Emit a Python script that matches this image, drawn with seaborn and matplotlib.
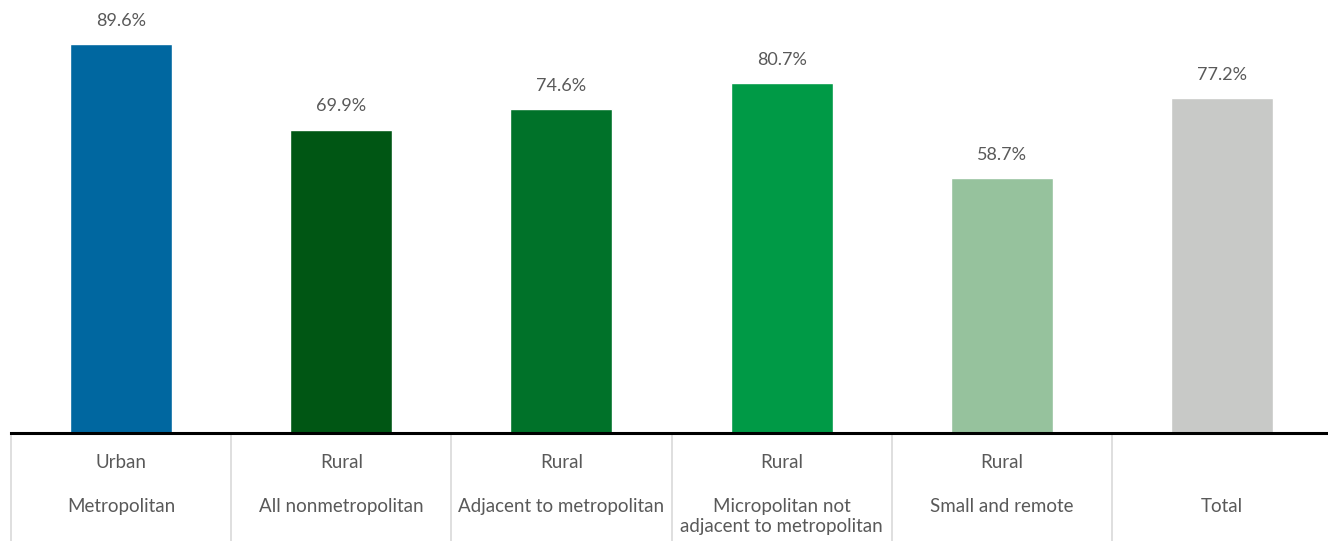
import matplotlib
matplotlib.use("Agg")
import matplotlib.pyplot as plt
import matplotlib.transforms as mtransforms
import seaborn as sns
import pandas as pd

# ---- data ----
groups = ["Urban", "Rural", "Rural", "Rural", "Rural", ""]
categories = ["Metropolitan", "All nonmetropolitan", "Adjacent to metropolitan",
              "Micropolitan not\nadjacent to metropolitan", "Small and remote", "Total"]
values = [89.6, 69.9, 74.6, 80.7, 58.7, 77.2]
bar_colors = ["#0067A0", "#005614", "#007229", "#009A46", "#96C29D", "#C8C9C7"]

df = pd.DataFrame({"category": categories, "value": values})

sns.set_theme(style="white")
plt.rcParams["font.family"] = ["Lato", "DejaVu Sans"]

fig = plt.figure(figsize=(13.28, 5.41), dpi=100)
ax = fig.add_axes([11 / 1328, 108 / 541, 1321 / 1328, 433 / 541])

sns.barplot(data=df, x="category", y="value", hue="category", palette=bar_colors,
            legend=False, width=0.464, saturation=1, ax=ax)

for cont in ax.containers:
    ax.bar_label(cont, fmt="%.1f%%", padding=11, fontsize=13, color="#595959")

ax.set_ylim(0, 99.8)
ax.set_xlim(-0.5, len(categories) - 0.5)
ax.set_xlabel("")
ax.set_ylabel("")
ax.set_xticks([])
ax.set_yticks([])
for side in ["top", "left", "right"]:
    ax.spines[side].set_visible(False)
ax.spines["bottom"].set_color("black")
ax.spines["bottom"].set_linewidth(2.2)

# category table under the axis
trans = mtransforms.blended_transform_factory(ax.transData, ax.transAxes)
for i, (g, c) in enumerate(zip(groups, categories)):
    if g:
        ax.text(i, -0.069, g, transform=trans, ha="center", va="center",
                fontsize=13.5, color="#595959")
    ax.text(i, -0.15, c, transform=trans, ha="center", va="top",
            fontsize=13.5, color="#595959", linespacing=1.2)
for i in range(len(categories) + 1):
    ax.plot([i - 0.5, i - 0.5], [0, -0.3], transform=trans, color="#D9D9D9",
            lw=1.2, clip_on=False)

fig.savefig("out.png", dpi=100)
